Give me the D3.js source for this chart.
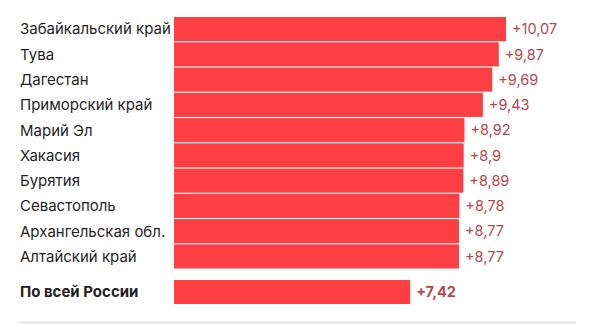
<!DOCTYPE html>
<html>
<head>
<meta charset="utf-8">
<script src="https://cdn.jsdelivr.net/npm/d3@7"></script>
<style>
  html, body { margin: 0; padding: 0; background: #fff; }
  svg { display: block; }
  text { font-family: Inter, "Noto Sans", sans-serif; }
</style>
</head>
<body>
<svg id="chart" width="593" height="325"></svg>
<script>
// Regions with the highest value, and the national total
const regions = ["Забайкальский край", "Тува", "Дагестан", "Приморский край", "Марий Эл",
                 "Хакасия", "Бурятия", "Севастополь", "Архангельская обл.", "Алтайский край"];
const values = [10.07, 9.87, 9.69, 9.43, 8.92, 8.9, 8.89, 8.78, 8.77, 8.77];
const totalLabel = ["По всей России"];
const totalValue = [7.42];

const W = 593, H = 325;
const barLeft = 174;
const svg = d3.select("#chart");

const x = d3.scaleLinear().domain([0.89, 10.07]).range([barLeft, barLeft + 332]);
const y = d3.scaleBand().domain(regions).range([17, 268.5]).paddingInner(0.045).paddingOuter(0);
const yTotal = d3.scaleBand().domain(totalLabel).range([280, 304]);

const fmt = v => "+" + String(v).replace(".", ",");
const barColor = "#fd3e43";
const valueColor = "#b8474c";

function drawRows(g, names, vals, yScale, bold) {
  const rows = g.selectAll("g.row").data(names.map((n, i) => ({ name: n, value: vals[i] })))
    .join("g").attr("class", "row");
  rows.append("rect")
    .attr("x", x.range()[0])
    .attr("y", d => yScale(d.name))
    .attr("width", d => x(d.value) - x.range()[0])
    .attr("height", yScale.bandwidth())
    .attr("fill", barColor);
  rows.append("text")
    .attr("x", 20)
    .attr("y", d => yScale(d.name) + yScale.bandwidth() / 2)
    .attr("dy", "0.36em")
    .attr("font-size", 15)
    .attr("font-weight", bold ? 700 : 400)
    .attr("fill", "#1f1f1f")
    .text(d => d.name);
  rows.append("text")
    .attr("x", d => x(d.value) + 6)
    .attr("y", d => yScale(d.name) + yScale.bandwidth() / 2)
    .attr("dy", "0.36em")
    .attr("font-size", 14.5)
    .attr("font-weight", bold ? 700 : 400)
    .attr("fill", valueColor)
    .text(d => fmt(d.value));
}

drawRows(svg.append("g"), regions, values, y, false);
drawRows(svg.append("g"), totalLabel, totalValue, yTotal, true);

// Bottom rule
svg.append("line")
  .attr("x1", 18).attr("x2", 576)
  .attr("y1", 322.5).attr("y2", 322.5)
  .attr("stroke", "#dcdcdc").attr("stroke-width", 1.5);
</script>
</body>
</html>
